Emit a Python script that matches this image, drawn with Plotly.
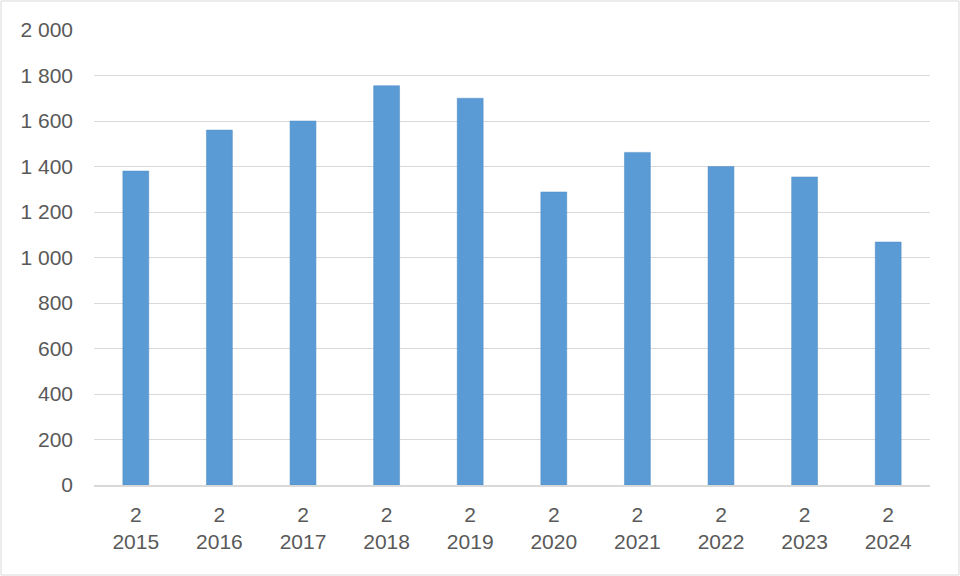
import plotly.graph_objects as go

years = ["2015", "2016", "2017", "2018", "2019", "2020", "2021", "2022", "2023", "2024"]
prefix = "2"
values = [1380, 1560, 1600, 1755, 1700, 1288, 1462, 1400, 1354, 1068]
y_ticks = [0, 200, 400, 600, 800, 1000, 1200, 1400, 1600, 1800, 2000]

categories = [f"{prefix}<br>{y}" for y in years]

W, H = 960, 576
ml, mr, mt, mb = 94, 30, 30, 91

fig = go.Figure(go.Bar(
    x=categories, y=values,
    marker=dict(color="#5b9bd5", line=dict(color="#4f8cc4", width=0.5)),
    width=0.31,
))

pw = W - ml - mr
ph = H - mt - mb
fig.add_shape(type="rect", xref="paper", yref="paper",
              x0=-(ml - 1) / pw, x1=1 + (mr - 1) / pw,
              y0=-(mb - 1) / ph, y1=1 + (mt - 1) / ph,
              line=dict(color="#d9d9d9", width=1), layer="below")

fig.update_layout(
    width=W, height=H,
    margin=dict(l=ml, r=mr, t=mt, b=mb),
    paper_bgcolor="white", plot_bgcolor="white",
    font=dict(family="Liberation Sans, Arial, sans-serif", size=21, color="#595959"),
    separators=". ",
    showlegend=False,
    xaxis=dict(showgrid=False, showline=True, linecolor="#d9d9d9", linewidth=1.5,
               ticks="", tickfont=dict(size=21), ticklabelstandoff=10),
    yaxis=dict(range=[0, 2000], tickvals=y_ticks, tickformat=",d",
               showgrid=True, gridcolor="#d9d9d9", gridwidth=1,
               zeroline=False, showline=False, ticks="",
               ticklabelstandoff=20),
)

fig.write_html("out.html", config={"displayModeBar": False},
               post_script="document.body.style.margin='0';")
